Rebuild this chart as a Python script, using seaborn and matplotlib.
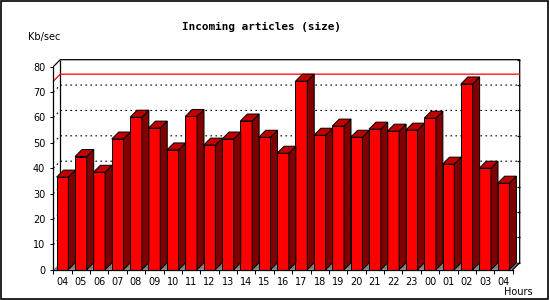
import matplotlib
matplotlib.use("Agg")
import matplotlib.pyplot as plt
import numpy as np
import pandas as pd
import seaborn as sns
from matplotlib.patches import Polygon, Rectangle

hours = ["04", "05", "06", "07", "08", "09", "10", "11", "12", "13", "14", "15", "16",
         "17", "18", "19", "20", "21", "22", "23", "00", "01", "02", "03", "04"]
kb_sec = [36.5, 44.6, 38.4, 51.5, 60.1, 55.8, 47.2, 60.4, 49.1, 51.5, 58.6, 52.2, 45.9,
          74.3, 53.0, 56.6, 52.2, 55.4, 54.6, 55.0, 59.7, 41.6, 73.2, 40.0, 34.1]
y_ticks = [0, 10, 20, 30, 40, 50, 60, 70, 80]

W, H = 550, 300
FRONT, SIDE, TOP = "#ff0000", "#800000", "#c00000"
DEPTH_PX = 7

sns.set_style("white")
plt.rcParams["font.family"] = ["DejaVu Sans"]
plt.rcParams["text.color"] = "black"

fig = plt.figure(figsize=(W / 100, H / 100), dpi=100)
# front plot area in pixels: x 53.3..512.7, y 66.7..269.7
ax = fig.add_axes([53.3 / W, 1 - 269.7 / H, (512.7 - 53.3) / W, (269.7 - 66.7) / H])

df = pd.DataFrame({"slot": np.arange(len(kb_sec)), "kb": kb_sec})
sns.barplot(data=df, x="slot", y="kb", color=FRONT, saturation=1, width=0.64,
            edgecolor="black", linewidth=0.7, ax=ax, zorder=3)

n = len(kb_sec)
ax.set_xlim(-0.5, n - 0.5)
ax.set_ylim(0, 80)
ax_w_px = (512.7 - 53.3)
ax_h_px = (269.7 - 66.7)
dx = DEPTH_PX * n / ax_w_px
dy = DEPTH_PX * 80 / ax_h_px
x_left, x_right = -0.5, n - 0.5

# floor
ax.add_patch(Polygon([(x_left, 0), (x_right, 0), (x_right + dx, dy), (x_left + dx, dy)],
                     closed=True, facecolor="#808080", edgecolor="none", zorder=0.5, clip_on=False))

# back wall grid lines (dotted)
for v in y_ticks[1:-1]:
    ax.plot([x_left, x_left + dx, x_right + dx], [v, v + dy, v + dy], color="black",
            lw=0.8, ls=(0, (1.5, 3)), zorder=1, clip_on=False)

# max line
vmax = max(kb_sec)
ax.plot([x_left, x_left + dx, x_right + dx], [vmax, vmax + dy, vmax + dy], color="red",
        lw=0.9, zorder=1.5, clip_on=False)

# wall frame
frame_kw = dict(color="black", lw=0.9, zorder=1.2, clip_on=False, solid_capstyle="butt")
ax.plot([x_left, x_left + dx, x_right + dx, x_right + dx], [80, 80 + dy, 80 + dy, dy], **frame_kw)
ax.plot([x_left + dx, x_left + dx], [dy, 80 + dy], **frame_kw)
ax.plot([x_right, x_right + dx], [0, dy], color="black", lw=0.9, zorder=4, clip_on=False)
tick_len = 3 * n / ax_w_px
for v in y_ticks:
    ax.plot([x_right + dx - tick_len, x_right + dx], [v + dy, v + dy], **frame_kw)

# 3d sides and tops of bars
for p in list(ax.patches):
    if not isinstance(p, Rectangle):
        continue
    x0, w, h = p.get_x(), p.get_width(), p.get_height()
    x1 = x0 + w
    ax.add_patch(Polygon([(x1, 0), (x1, h), (x1 + dx, h + dy), (x1 + dx, dy)], closed=True,
                         facecolor=SIDE, edgecolor="black", lw=0.7, zorder=3, clip_on=False))
    ax.add_patch(Polygon([(x0, h), (x1, h), (x1 + dx, h + dy), (x0 + dx, h + dy)], closed=True,
                         facecolor=TOP, edgecolor="black", lw=0.7, zorder=3, clip_on=False))

# axes styling
for s in ["top", "right"]:
    ax.spines[s].set_visible(False)
for s in ["left", "bottom"]:
    ax.spines[s].set_color("black")
    ax.spines[s].set_linewidth(0.9)
    ax.spines[s].set_zorder(5)
ax.set_yticks(y_ticks)
ax.set_yticklabels([str(v) for v in y_ticks])
ax.set_xticks(np.arange(n))
ax.set_xticklabels(hours)
ax.set_xticks(np.arange(n + 1) - 0.5, minor=True)
ax.tick_params(axis="y", which="major", direction="out", length=2.2, width=0.75,
               pad=3.6, labelsize=7, colors="black", left=True)
ax.tick_params(axis="x", which="major", length=0, pad=5, labelsize=7, colors="black")
ax.tick_params(axis="x", which="minor", direction="out", length=2.9, width=0.75,
               bottom=True, colors="black")
ax.set_xlabel("")
ax.set_ylabel("")
ax.grid(False)

fig.text(261 / W, 1 - 26.7 / H, "Incoming articles (size)", ha="center", va="center",
         fontsize=7.9, fontweight="bold", family="DejaVu Sans Mono", color="black")
fig.text(28 / W, 1 - 36.7 / H, "Kb/sec", ha="left", va="center", fontsize=7, color="black")
fig.text(533 / W, 1 - 291.7 / H, "Hours", ha="right", va="center", fontsize=7, color="black")

fig.patches.append(Rectangle((0.5 / W, 1.5 / H), (W - 2.5) / W, (H - 2.5) / H,
                             transform=fig.transFigure, fill=False, edgecolor="black", lw=1.2))

fig.savefig("out.png", dpi=100)
